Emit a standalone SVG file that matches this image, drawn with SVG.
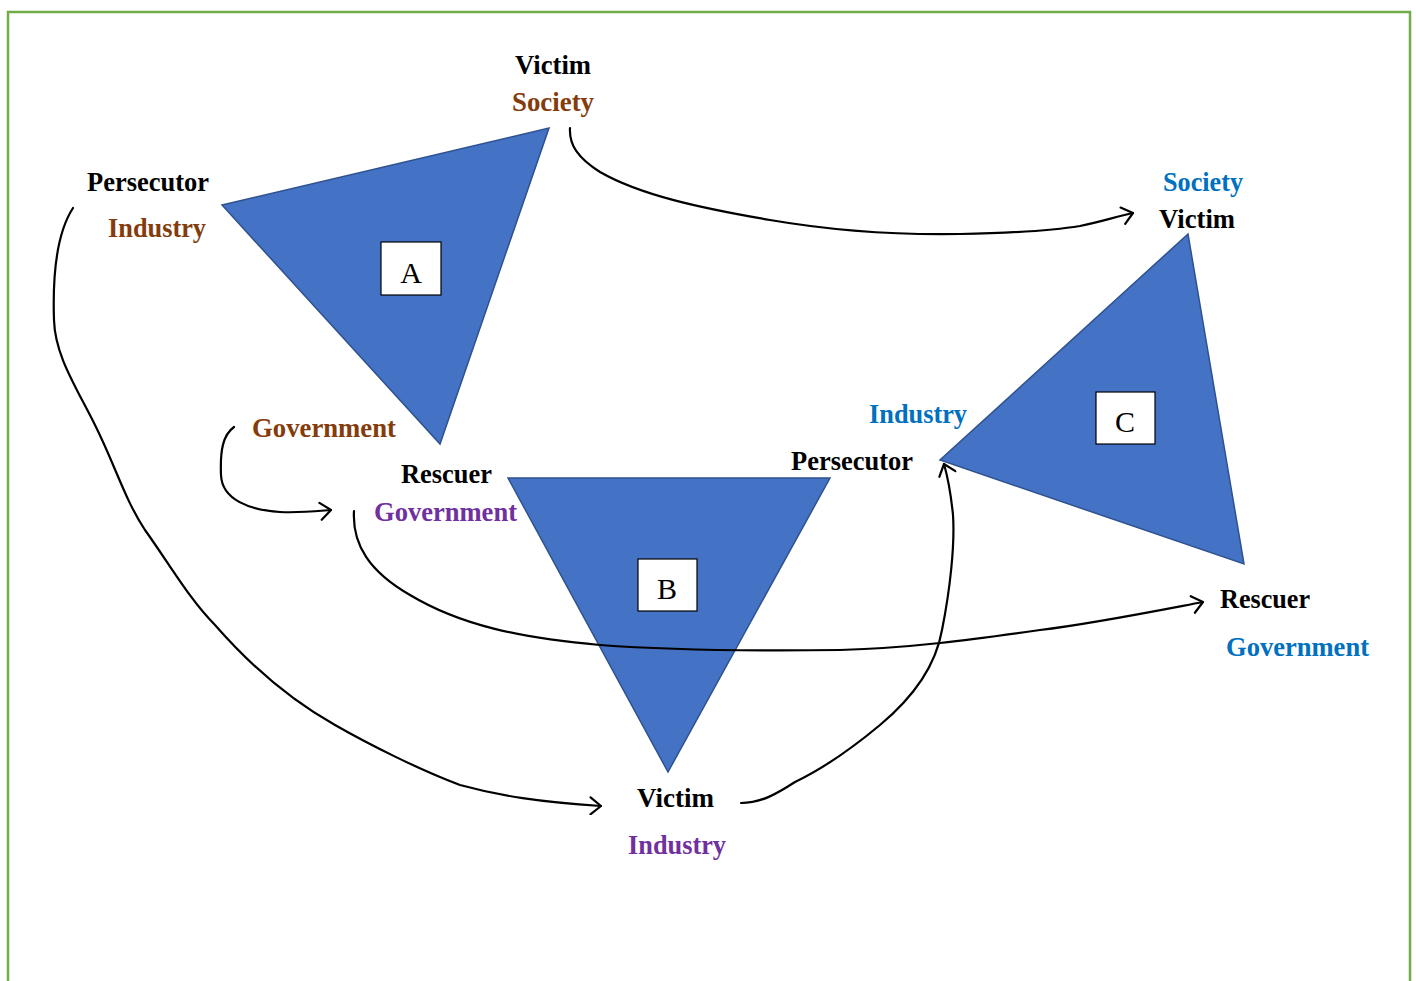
<svg xmlns="http://www.w3.org/2000/svg" width="1416" height="981" viewBox="0 0 1416 981">
  <style>
    .tri { fill: #4472C4; stroke: #2F528F; stroke-width: 1.5; stroke-linejoin: miter; }
    .box { fill: #FFFFFF; stroke: #000000; stroke-width: 1.2; }
    .letter { font-family: "Liberation Serif", "Times New Roman", serif; font-size: 30px; fill: #000; text-anchor: middle; }
    .lbl { font-family: "Liberation Serif", "Times New Roman", serif; font-size: 28px; font-weight: bold; }
    .role { fill: #000000; }
    .brown { fill: #843C0C; }
    .purple { fill: #7030A0; }
    .blue { fill: #0070C0; }
    .link { fill: none; stroke: #000; stroke-width: 2.2; stroke-linecap: round; stroke-linejoin: round; }
  </style>
  <defs>
    <marker id="chev" viewBox="0 0 20 20" refX="16" refY="10" markerWidth="20" markerHeight="20" markerUnits="userSpaceOnUse" orient="auto">
      <path d="M5,2 L16,10 L6,19" fill="none" stroke="#000" stroke-width="2.2" stroke-linecap="round" stroke-linejoin="round"/>
    </marker>
  </defs>

  <rect x="0" y="0" width="1416" height="981" fill="#FFFFFF"/>
  <!-- frame -->
  <path d="M8,990 L8,12 L1410,12 L1410,990" fill="none" stroke="#70AD47" stroke-width="2.5"/>

  <!-- triangle A -->
  <g id="triangle-a">
    <polygon class="tri" points="222,205 549,128 440,444"/>
    <rect class="box" x="381" y="242" width="60" height="53"/>
    <text class="letter" x="411" y="283">A</text>
  </g>

  <!-- triangle B -->
  <g id="triangle-b">
    <polygon class="tri" points="508,478 830,478 668,772"/>
    <rect class="box" x="638" y="559" width="59" height="52"/>
    <text class="letter" x="667" y="599">B</text>
  </g>

  <!-- triangle C -->
  <g id="triangle-c">
    <polygon class="tri" points="1188,234 940,460 1244,564"/>
    <rect class="box" x="1096" y="392" width="59" height="52"/>
    <text class="letter" x="1125" y="432">C</text>
  </g>

  <!-- labels of triangle A -->
  <g id="a-victim">
    <text class="lbl role" x="515" y="74" textLength="76" lengthAdjust="spacingAndGlyphs">Victim</text>
    <text class="lbl brown" x="512" y="111" textLength="82" lengthAdjust="spacingAndGlyphs">Society</text>
  </g>
  <g id="a-persecutor">
    <text class="lbl role" x="87" y="191" textLength="122" lengthAdjust="spacingAndGlyphs">Persecutor</text>
    <text class="lbl brown" x="108" y="237" textLength="98" lengthAdjust="spacingAndGlyphs">Industry</text>
  </g>
  <g id="a-rescuer">
    <text class="lbl brown" x="252" y="437" textLength="144" lengthAdjust="spacingAndGlyphs">Government</text>
  </g>

  <!-- labels of triangle B -->
  <g id="b-rescuer">
    <text class="lbl role" x="401" y="483" textLength="91" lengthAdjust="spacingAndGlyphs">Rescuer</text>
    <text class="lbl purple" x="374" y="521" textLength="143" lengthAdjust="spacingAndGlyphs">Government</text>
  </g>
  <g id="b-victim">
    <text class="lbl role" x="637" y="807" textLength="77" lengthAdjust="spacingAndGlyphs">Victim</text>
    <text class="lbl purple" x="628" y="854" textLength="98" lengthAdjust="spacingAndGlyphs">Industry</text>
  </g>

  <!-- labels of triangle C -->
  <g id="c-victim">
    <text class="lbl blue" x="1163" y="191" textLength="80" lengthAdjust="spacingAndGlyphs">Society</text>
    <text class="lbl role" x="1159" y="228" textLength="76" lengthAdjust="spacingAndGlyphs">Victim</text>
  </g>
  <g id="c-persecutor">
    <text class="lbl blue" x="869" y="423" textLength="98" lengthAdjust="spacingAndGlyphs">Industry</text>
    <text class="lbl role" x="791" y="470" textLength="122" lengthAdjust="spacingAndGlyphs">Persecutor</text>
  </g>
  <g id="c-rescuer">
    <text class="lbl role" x="1220" y="608" textLength="90" lengthAdjust="spacingAndGlyphs">Rescuer</text>
    <text class="lbl blue" x="1226" y="656" textLength="143" lengthAdjust="spacingAndGlyphs">Government</text>
  </g>

  <!-- hand-drawn connectors -->
  <g id="connectors">
    <path class="link" marker-end="url(#chev)" d="M570,128 C569,145 578,158 600,172 C640,195 700,208 770,220 C840,232 900,235 960,234 C1010,233 1050,231 1080,226 C1100,222 1115,217 1133,213"/>
    <path class="link" marker-end="url(#chev)" d="M73,208 C60,228 52,260 54,320 C55,355 75,385 95,425 C115,465 125,500 145,530 C170,565 190,600 215,625 C250,665 290,700 335,725 C370,745 420,770 460,785 C500,796 540,802 601,806"/>
    <path class="link" marker-end="url(#chev)" d="M234,427 C223,435 220,450 221,475 C222,500 250,510 280,512 C300,513 318,511 331,510"/>
    <path class="link" marker-end="url(#chev)" d="M354,511 C352,545 370,572 410,595 C460,625 520,638 600,645 C680,651 760,651 840,650 C910,648 970,640 1040,630 C1090,624 1140,614 1203,602"/>
    <path class="link" marker-end="url(#chev)" d="M741,803 C760,803 775,795 795,782 C820,770 850,750 880,725 C910,700 935,670 942,630 C950,590 955,545 953,515 C951,495 948,478 944,464"/>
  </g>
</svg>
